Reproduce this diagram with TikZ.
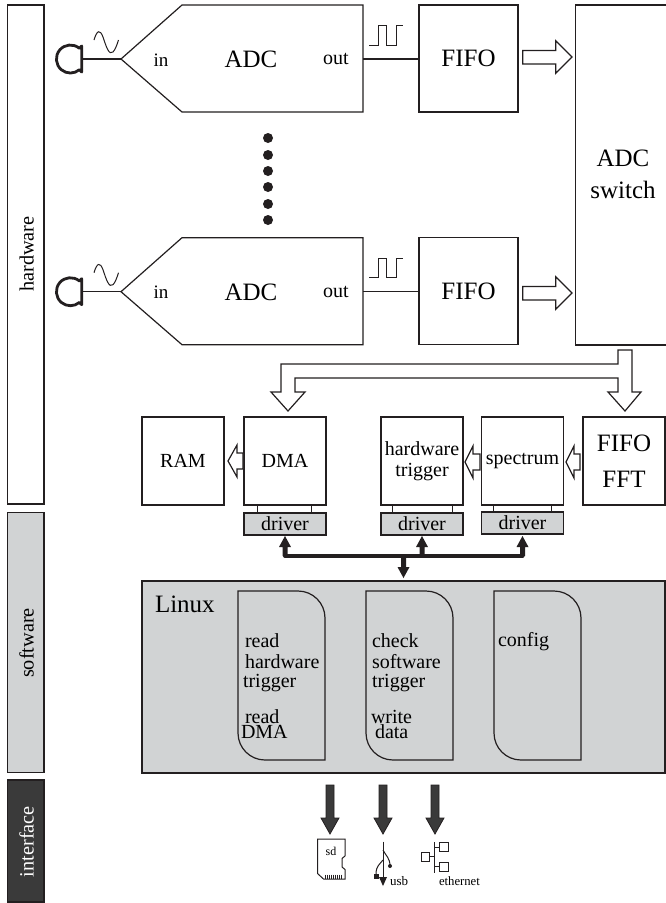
\documentclass[tikz,border=0pt]{standalone}
\usepackage{fontspec}
\setmainfont{Liberation Serif}
\definecolor{lgray}{HTML}{D1D3D4}
\definecolor{dgray}{HTML}{3A3A3A}
\definecolor{ink}{HTML}{231F20}
\tikzset{
  box/.style={draw=ink,line width=1.2pt,fill=white,anchor=north west,inner sep=0pt,outer sep=0pt,align=center,text=black},
  lbl/.style={inner sep=0pt,outer sep=0pt,anchor=base west,font=\fontsize{20}{20}\selectfont},
  sidelbl/.style={rotate=90,anchor=base,inner sep=0pt,font=\fontsize{20.3}{20}\selectfont},
  hollow/.style={draw=ink,line width=1.2pt,fill=white,line join=miter},
  heavy/.style={draw=ink,line width=0.8pt,fill=dgray},
  wire/.style={draw=ink,line width=1.2pt},
  thin wire/.style={draw=ink,line width=1pt},
  drv/.style={box,fill=lgray,minimum width=82pt,minimum height=22pt,font=\fontsize{20}{20}\selectfont},
  fifo/.style={box,minimum width=99pt,minimum height=107pt,font=\fontsize{25}{25}\selectfont},
  mid/.style={box,minimum width=82pt,minimum height=88pt,font=\fontsize{20}{21}\selectfont},
  side/.style={box,minimum width=36.5pt},
  doc/.style={draw=ink,line width=1.2pt,fill=lgray},
  dot/.style={circle,fill=ink,minimum size=10pt,inner sep=0pt}
}
\begin{document}
\begin{tikzpicture}[x=1pt,y=-1pt]
\useasboundingbox (0,0) rectangle (666,903);
% side bands
\node[side,minimum height=499pt] (hw) at (7.5,5) {};
\node[side,fill=lgray,minimum height=259.5pt] (sw) at (7.5,512.7) {};
\node[side,fill=dgray,minimum height=122pt] (ifc) at (7.5,780) {};
\node[sidelbl] (hwt) at (33.5,254) {hardware};
\node[sidelbl] (swt) at (33.5,643) {software};
\node[sidelbl,text=white] (ift) at (33.5,841.7) {interface};
% ADC rows
\foreach \n/\o/\ay in {a/0/57,b/232.7/60.3}{
  \begin{scope}[yshift=-\o pt]
    \coordinate (tip\n) at (121,59);
    \coordinate (mic\n) at (82,59);
    \coordinate (out\n) at (363,59);
    \draw[box] (tip\n) -- (182,5) -- (363,5) -- (363,112) -- (182,112) -- cycle;
    \node[font=\fontsize{25}{25}\selectfont] (adc\n) at (251,59.5) {ADC};
    \node[font=\fontsize{19}{19}\selectfont] (in\n) at (161,60) {in};
    \node[font=\fontsize{20}{20}\selectfont] (outt\n) at (336,59) {out};
    \node[fifo] (fifo\n) at (419,5) {FIFO};
    \draw[wire] (mic\n) -- (tip\n);
    \draw[wire] (out\n) -- (out\n -| fifo\n.west);
    \draw[draw=ink,line width=2.8pt,line join=round] (81.7,46) -- (79.4,48.3) arc[start angle=50,end angle=310,radius=14pt] -- (81.7,72) -- cycle;
    \draw[thin wire] (94,40) .. controls (97,30) and (100,29) .. (103,37) .. controls (106,46) and (109,56) .. (113,52) .. controls (115,50) and (117,45) .. (118.5,40);
    \draw[thin wire] (369,45) -- (378.3,45) -- (378.3,25.7) -- (386,25.7) -- (386,45) -- (396,45) -- (396,25.7) -- (403,25.7);
    \draw[hollow] (522.7,\ay-6.5) -- (555.7,\ay-6.5) -- (555.7,\ay-16.3) -- (572,\ay) -- (555.7,\ay+16.3) -- (555.7,\ay+7) -- (522.7,\ay+7) -- cycle;
  \end{scope}
}
% dots
\foreach \i/\y in {1/138,2/155,3/171,4/187,5/204,6/220}{
  \node[dot] (d\i) at (268,\y) {};
}
% switch
\node[box,minimum width=96pt,minimum height=340pt] (switch) at (575.7,5) {};
\node[font=\fontsize{25}{32}\selectfont,align=center,inner sep=0pt] (switcht) at (623,174) {ADC\\switch};
% branch
\draw[hollow] (618,350) -- (632,350) -- (632,392) -- (641,392) -- (625,411) -- (608,392) -- (618,392) -- (618,378) -- (295,378) -- (295,392) -- (305,392) -- (288,411) -- (271,392) -- (281,392) -- (281,364) -- (618,364) -- cycle;
% middle row
\node[mid] (ram) at (142,417) {RAM};
\node[mid] (dma) at (244,417) {DMA};
\node[mid] (trig) at (381,417) {hardware\\trigger};
\node[mid] (spec) at (481.5,417) {spectrum};
\node[mid,font=\fontsize{25}{36}\selectfont] (fft) at (583,417) {FIFO\\FFT};
\draw[hollow] (243,453) -- (237,453) -- (237,445) -- (228,461) -- (237,477) -- (237,469) -- (243,469) -- cycle;
\draw[hollow] (480,454) -- (473,454) -- (473,446) -- (465,462) -- (473,478) -- (473,470) -- (480,470) -- cycle;
\draw[hollow] (580,454) -- (574,454) -- (574,446) -- (566,462) -- (574,478) -- (574,470) -- (580,470) -- cycle;
% drivers
\node[drv] (dr1) at (244,513) {driver};
\node[drv] (dr2) at (381,513) {driver};
\node[drv] (dr3) at (481.5,512) {driver};
\foreach \x in {257,311.5,392,452,493,551}{ \draw[thin wire] (\x,505) -- (\x,512.5); }
% bus
\draw[draw=ink,line width=4pt,line cap=round] (285,556) -- (522.5,556);
\foreach \x in {285,422,522.5}{
  \fill[ink] (\x-2.5,556) -- (\x-2.5,547) -- (\x-6,547) -- (\x,536) -- (\x+6,547) -- (\x+2.5,547) -- (\x+2.5,556) -- cycle;
}
\fill[ink] (401,556) -- (401,567) -- (397.5,567) -- (403.5,578) -- (409.5,567) -- (406,567) -- (406,556) -- cycle;
% Linux
\node[box,fill=lgray,minimum width=523pt,minimum height=192pt] (linux) at (142,581) {};
\node[lbl,font=\fontsize{25}{25}\selectfont] (lt) at (155,612) {Linux};
\foreach \x in {238,366,494}{
  \draw[doc] (\x,591) -- (\x+60,591) arc[start angle=90,end angle=0,radius=27pt] -- (\x+87,760) -- (\x+27,760) arc[start angle=270,end angle=180,radius=27pt] -- cycle;
}
\node[lbl] (l1) at (245,647) {read};
\node[lbl] (l2) at (245,668) {hardware};
\node[lbl] (l3) at (243,687) {trigger};
\node[lbl] (l4) at (245,723) {read};
\node[lbl] (l5) at (241,738) {DMA};
\node[lbl] (m1) at (372,647) {check};
\node[lbl] (m2) at (372,668) {software};
\node[lbl] (m3) at (372,687) {trigger};
\node[lbl] (m4) at (371,723) {write};
\node[lbl] (m5) at (375,738) {data};
\node[lbl] (c1) at (498,646) {config};
% interface arrows
\foreach \x in {330,383,435}{
  \draw[heavy] (\x-4,785) -- (\x+4,785) -- (\x+4,818) -- (\x+9,818) -- (\x,834) -- (\x-9,818) -- (\x-4,818) -- cycle;
}
% sd
\draw[thin wire] (317.5,839) -- (345,839) -- (345,856) -- (342,858.5) -- (342,867) -- (345,869.5) -- (345,879) -- (323.5,879) -- (317.5,873.5) -- cycle;
\foreach \x in {325,327,329,331,333,335,337,339,341}{ \draw[draw=ink,line width=0.6pt] (\x,874.5) -- (\x,878.5); }
\node[font=\fontsize{12}{12}\selectfont] (sdt) at (331,851) {sd};
% usb
\coordinate (usbt) at (383,841.5);
\draw[thin wire] (usbt) -- (383,878);
\fill[ink] (379,877) -- (387,877) -- (383,886) -- cycle;
\draw[thin wire] (383,850) .. controls (386,856) and (390,858) .. (390,866);
\fill[ink] (390,866) circle (2pt);
\draw[thin wire] (383,860) .. controls (380,864) and (376,866) .. (376,874);
\fill[ink] (374,874) rectangle (378.5,878.5);
\node[lbl,font=\fontsize{13}{13}\selectfont] (ut) at (390,885) {usb};
% ethernet
\draw[thin wire] (421,852.5) rectangle (429.5,861);
\draw[thin wire] (439.5,842.5) rectangle (448.5,851.5);
\draw[thin wire] (439.5,862) rectangle (448.5,871);
\draw[thin wire] (434.5,842) -- (434.5,873);
\draw[thin wire] (429.5,856.5) -- (434.5,856.5);
\draw[thin wire] (434.5,847) -- (439.5,847);
\draw[thin wire] (434.5,866.5) -- (439.5,866.5);
\node[lbl,font=\fontsize{12.7}{13}\selectfont] (et) at (439,885) {ethernet};
\end{tikzpicture}
\end{document}
